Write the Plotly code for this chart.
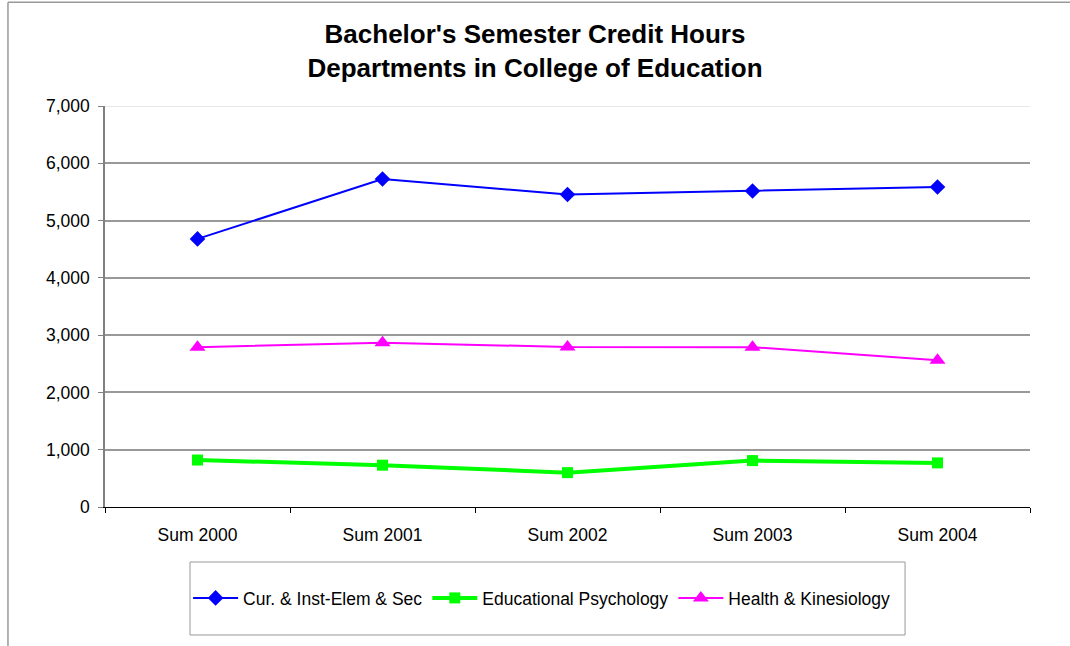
import plotly.graph_objects as go

terms = ["Sum 2000", "Sum 2001", "Sum 2002", "Sum 2003", "Sum 2004"]
cur_inst = [4680, 5725, 5455, 5515, 5585]
edu_psych = [820, 730, 600, 810, 770]
health_kin = [2790, 2868, 2793, 2790, 2560]

font_family = "Liberation Sans, Arial, sans-serif"

fig = go.Figure()
fig.add_trace(go.Scatter(
    x=terms, y=cur_inst, name="Cur. & Inst-Elem & Sec", mode="lines+markers",
    line=dict(color="#0000FF", width=2),
    marker=dict(symbol="diamond", size=12, color="#0000FF"),
))
fig.add_trace(go.Scatter(
    x=terms, y=edu_psych, name="Educational Psychology", mode="lines+markers",
    line=dict(color="#00FF00", width=4),
    marker=dict(symbol="square", size=11, color="#00FF00"),
))
fig.add_trace(go.Scatter(
    x=terms, y=health_kin, name="Health & Kinesiology", mode="lines+markers",
    line=dict(color="#FF00FF", width=2),
    marker=dict(symbol="triangle-up", size=14, color="#FF00FF"),
))

# outer chart frame (left and top edges)
fig.add_shape(type="line", xref="paper", yref="paper",
              x0=-0.1049, x1=-0.1049, y0=-0.4, y1=1.259,
              line=dict(color="#999999", width=1.5))
fig.add_shape(type="line", xref="paper", yref="paper",
              x0=-0.1049, x1=1.1, y0=1.259, y1=1.259,
              line=dict(color="#999999", width=1.5))
# faint top gridline
fig.add_shape(type="line", xref="paper", yref="y",
              x0=0, x1=1, y0=7000, y1=7000, layer="below",
              line=dict(color="#E0E0E0", width=1.5))
# legend box
fig.add_shape(type="rect", xref="paper", yref="paper",
              x0=0.0919, x1=0.8649, y0=-0.1372, y1=-0.3192,
              line=dict(color="#999999", width=1))

fig.update_layout(
    width=1070, height=646,
    margin=dict(l=105, r=40, t=106, b=139),
    paper_bgcolor="white", plot_bgcolor="white",
    font=dict(family=font_family, size=17.5, color="black"),
    title=dict(
        text="<b>Bachelor's Semester Credit Hours<br>Departments in College of Education</b>",
        x=0.5, xref="container", xanchor="center",
        y=0.933, yanchor="middle",
        font=dict(size=26, family=font_family, color="black"),
    ),
    showlegend=True,
    legend=dict(
        orientation="h", x=0.472, xanchor="center", y=-0.227, yanchor="middle",
        borderwidth=0, bgcolor="rgba(0,0,0,0)", font=dict(size=17.5),
        itemwidth=45, tracegroupgap=0,
    ),
)
fig.update_xaxes(
    type="category", range=[-0.5, 4.5],
    showline=True, linecolor="black", linewidth=1,
    ticks="outside", tickson="boundaries", ticklen=5, tickcolor="black",
    showgrid=False, tickfont=dict(size=17.5), ticklabelstandoff=12,
)
fig.update_yaxes(
    range=[0, 7000], dtick=1000, tickformat=",d",
    showline=True, linecolor="#808080", linewidth=1.5,
    ticks="outside", ticklen=5, tickcolor="#808080",
    showgrid=True, gridcolor="#999999", gridwidth=2,
    zeroline=False, tickfont=dict(size=17.5), ticklabelstandoff=5,
)

fig.write_html("out.html")
